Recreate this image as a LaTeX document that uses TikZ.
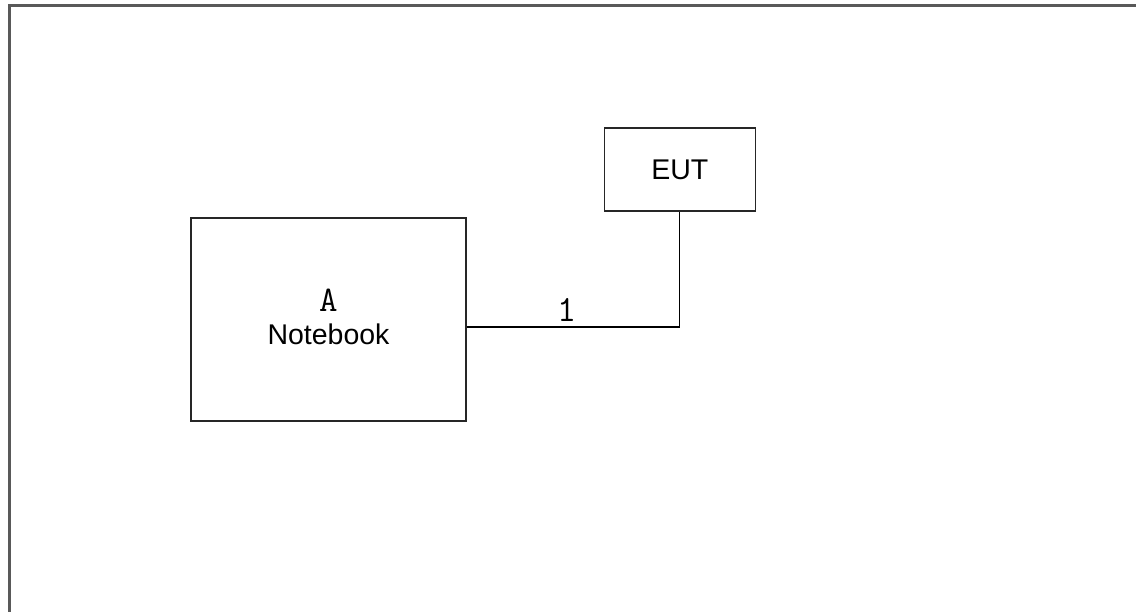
\documentclass[tikz,border=0pt]{standalone}
\usepackage{fontspec}
\setmainfont{Liberation Sans}
\usetikzlibrary{positioning}

\begin{document}
\begin{tikzpicture}[
    x=1pt, y=-1pt,
    box/.style={
        rectangle, draw=black!85, line width=1.4pt, inner sep=0pt,
        align=center, font=\fontsize{28.5}{33}\selectfont
    },
    cable/.style={draw=black, line width=1.3pt},
    tag/.style={font=\ttfamily\fontsize{37}{33}\selectfont, inner sep=0pt},
]
\useasboundingbox (0,0) rectangle (1136,612);

% Outer frame (its right and bottom sides lie outside the page)
\draw[black!65, line width=2.2pt] (9.5,700) -- (9.5,5.5) -- (1200,5.5);

% Notebook
\node[box, minimum width=275pt, minimum height=203pt, text depth=5pt] (nb) at (328.5,319.5)
    {{\ttfamily\fontsize{36}{33}\selectfont A}\\Notebook};

% EUT
\node[box, minimum width=151pt, minimum height=83pt] (eut) at (679.75,169.5) {EUT};

% Cable 1
\draw[cable] ([yshift=-7.5pt]nb.east) -| (eut.south)
    node[tag, pos=0.25, above=5pt, xshift=-6pt] (c1) {1};

\end{tikzpicture}
\end{document}
